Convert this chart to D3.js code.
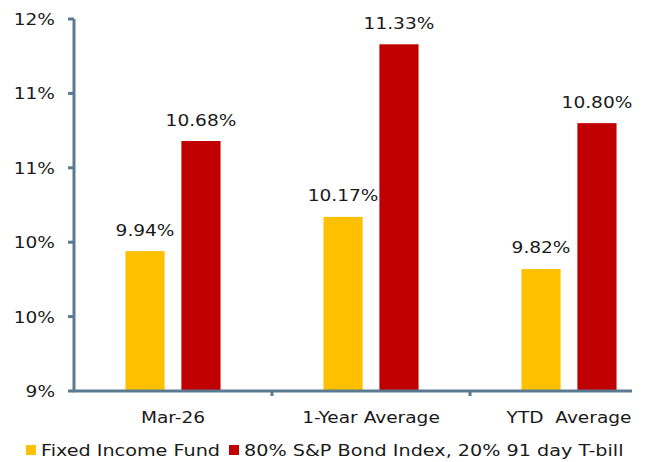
<!DOCTYPE html>
<html>
<head>
<meta charset="utf-8">
<script src="https://cdn.jsdelivr.net/npm/d3@7"></script>
<style>
  body { margin: 0; background: #fff; }
  text { font-family: "DejaVu Sans", Verdana, sans-serif; font-size: 16px; fill: #1a1a1a; }
</style>
</head>
<body>
<script>
const categories = ["Mar-26", "1-Year Average", "YTD  Average"];
const seriesNames = ["Fixed Income Fund", "80% S&P Bond Index, 20% 91 day T-bill"];
const fundValues = [9.94, 10.17, 9.82];
const indexValues = [10.68, 11.33, 10.80];
const yTicks = [9, 9.5, 10, 10.5, 11, 11.5];
const colors = ["#FFC000", "#C00000"];

const width = 646, height = 462;
const axisColor = "#5A7A91";

const svg = d3.select("body").append("svg")
    .attr("width", width)
    .attr("height", height);

const x = d3.scaleBand()
    .domain(categories)
    .range([74, 668]);

const xSub = d3.scaleBand()
    .domain(seriesNames)
    .range([0, x.bandwidth()])
    .paddingInner(0.3)
    .paddingOuter(0.92);

const y = d3.scaleLinear()
    .domain([9, 11.5])
    .range([391, 19]);

// text is a little wider than the font, so stretch it
function label(g, px, py, str, anchor, sx) {
    return g.append("text")
        .attr("transform", "translate(" + px + "," + py + ") scale(" + (sx || 1.16) + ",1)")
        .attr("text-anchor", anchor || "middle")
        .text(str);
}

const rows = categories.map((c, i) => ({
    cat: c,
    vals: [fundValues[i], indexValues[i]]
}));

const groups = svg.selectAll("g.cat")
    .data(rows)
    .enter().append("g")
    .attr("class", "cat")
    .attr("transform", d => "translate(" + x(d.cat) + ",0)");

groups.selectAll("rect")
    .data(d => d.vals.map((v, j) => ({ name: seriesNames[j], v: v, j: j })))
    .enter().append("rect")
    .attr("x", d => xSub(d.name))
    .attr("y", d => y(d.v))
    .attr("width", xSub.bandwidth())
    .attr("height", d => y(9) - y(d.v))
    .attr("fill", d => colors[d.j]);

groups.each(function (d) {
    const g = d3.select(this);
    d.vals.forEach((v, j) => {
        label(g, xSub(seriesNames[j]) + xSub.bandwidth() / 2, y(v) - 15.5, v.toFixed(2) + "%");
    });
});

// y axis
const yAxis = svg.append("g");
yAxis.append("line")
    .attr("x1", 74).attr("x2", 74)
    .attr("y1", y(11.5)).attr("y2", y(9))
    .attr("stroke", axisColor).attr("stroke-width", 3);
yTicks.forEach(t => {
    yAxis.append("line")
        .attr("x1", 68).attr("x2", 74)
        .attr("y1", y(t)).attr("y2", y(t))
        .attr("stroke", axisColor).attr("stroke-width", 3);
    label(yAxis, 55, y(t) + 6, Math.round(t) + "%", "end");
});

// x axis
const xAxis = svg.append("g");
xAxis.append("line")
    .attr("x1", 72.5).attr("x2", 632)
    .attr("y1", y(9)).attr("y2", y(9))
    .attr("stroke", axisColor).attr("stroke-width", 3);
categories.slice(1).forEach(c => {
    xAxis.append("line")
        .attr("x1", x(c)).attr("x2", x(c))
        .attr("y1", y(9)).attr("y2", y(9) + 5)
        .attr("stroke", axisColor).attr("stroke-width", 3);
});
categories.forEach(c => {
    label(xAxis, x(c) + x.bandwidth() / 2, 423, c).attr("xml:space", "preserve").style("white-space", "pre");
});

// legend
const legend = svg.append("g");
const legendX = [26, 229];
seriesNames.forEach((s, i) => {
    legend.append("rect")
        .attr("x", legendX[i]).attr("y", 445)
        .attr("width", 10).attr("height", 10)
        .attr("fill", colors[i]);
    label(legend, legendX[i] + 15, 456, s, "start", 1.2);
});
</script>
</body>
</html>
